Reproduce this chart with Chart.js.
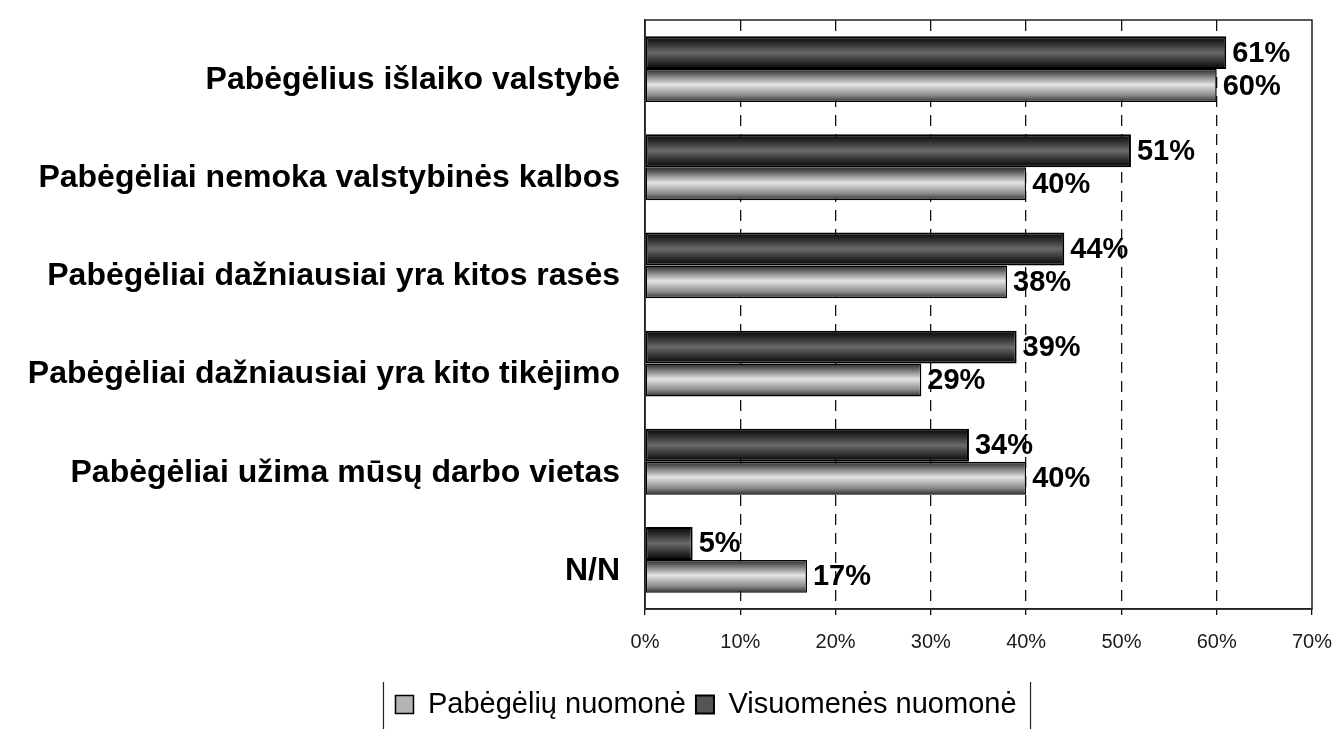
<!DOCTYPE html>
<html>
<head>
<meta charset="utf-8">
<script src="https://cdn.jsdelivr.net/npm/chart.js@4"></script>
<style>
  html, body { margin: 0; padding: 0; background: #fff; }
  .wrap { width: 1337px; height: 729px; }
</style>
</head>
<body>
<div class="wrap"><canvas id="myChart"></canvas></div>
<script>
// duomenys
var categories = [
  'Pabėgėlius išlaiko valstybė',
  'Pabėgėliai nemoka valstybinės kalbos',
  'Pabėgėliai dažniausiai yra kitos rasės',
  'Pabėgėliai dažniausiai yra kito tikėjimo',
  'Pabėgėliai užima mūsų darbo vietas',
  'N/N'
]
var visuomenes = [61, 51, 44, 39, 34, 5]
var pabegeliu = [60, 40, 38, 29, 40, 17]
var xTicks = [0, 10, 20, 30, 40, 50, 60, 70]

var FONT = 'Liberation Sans, Arial, sans-serif'

function barGradient(ctx, top, bottom, dark) {
  var g = ctx.createLinearGradient(0, top, 0, bottom)
  if (dark) {
    g.addColorStop(0, '#050505')
    g.addColorStop(0.22, '#2e2e2e')
    g.addColorStop(0.5, '#6a6a6a')
    g.addColorStop(0.78, '#2e2e2e')
    g.addColorStop(1, '#050505')
  } else {
    g.addColorStop(0, '#262626')
    g.addColorStop(0.18, '#6e6e6e')
    g.addColorStop(0.47, '#e4e4e4')
    g.addColorStop(0.8, '#8a8a8a')
    g.addColorStop(1, '#2e2e2e')
  }
  return g
}

// gradient on bars + percent labels + frame
var decor = {
  id: 'decor',
  afterLayout: function (chart) {
    // move legend a bit right, like in the original
    var lg = chart.legend
    if (!lg) return
    var dx = 50
    lg.left += dx
    lg.right += dx
    lg.legendHitBoxes.forEach(function (b) { b.left += dx })
  },
  beforeDatasetsDraw: function (chart) {
    var ctx = chart.ctx
    chart.data.datasets.forEach(function (ds, i) {
      var meta = chart.getDatasetMeta(i)
      meta.data.forEach(function (el) {
        var h = el.height
        var g = barGradient(ctx, el.y - h / 2, el.y + h / 2, i === 0)
        el.options = Object.assign({}, el.options, { backgroundColor: g })
      })
    })
  },
  afterDatasetsDraw: function (chart) {
    var ctx = chart.ctx
    ctx.save()
    ctx.fillStyle = '#000'
    ctx.font = 'bold 29px ' + FONT
    ctx.textAlign = 'left'
    ctx.textBaseline = 'middle'
    chart.data.datasets.forEach(function (ds, i) {
      var meta = chart.getDatasetMeta(i)
      meta.data.forEach(function (el, j) {
        ctx.fillText(ds.data[j] + '%', el.x + 6, el.y + 1)
      })
    })
    // frame round plot area
    var a = chart.chartArea
    ctx.strokeStyle = '#222'
    ctx.lineWidth = 1.5
    ctx.strokeRect(a.left, a.top, a.right - a.left, a.bottom - a.top)
    ctx.restore()
  },
  afterDraw: function (chart) {
    var lg = chart.legend
    if (!lg || !lg.legendHitBoxes.length) return
    var boxes = lg.legendHitBoxes
    var l = boxes[0].left - 12
    var last = boxes[boxes.length - 1]
    var r = last.left + last.width + 14
    var ctx = chart.ctx
    ctx.save()
    ctx.strokeStyle = '#222'
    ctx.lineWidth = 1.2
    ctx.beginPath()
    ctx.moveTo(l, lg.top + 2); ctx.lineTo(l, 729)
    ctx.moveTo(r, lg.top + 2); ctx.lineTo(r, 729)
    ctx.stroke()
    ctx.restore()
  }
}

var data = {
  labels: categories,
  datasets: [{
    label: 'Visuomenės nuomonė',
    data: visuomenes,
    backgroundColor: '#555',
    borderColor: '#000',
    borderWidth: 2,
    borderSkipped: false,
    categoryPercentage: 0.67,
    barPercentage: 1
  }, {
    label: 'Pabėgėlių nuomonė',
    data: pabegeliu,
    backgroundColor: '#b4b4b4',
    borderColor: '#000',
    borderWidth: 1.5,
    borderSkipped: false,
    categoryPercentage: 0.67,
    barPercentage: 1
  }]
}

var options = {
  indexAxis: 'y',
  responsive: true,
  maintainAspectRatio: false,
  animation: false,
  layout: { padding: { top: 20, right: 25, left: 0, bottom: 0 } },
  scales: {
    x: {
      min: 0,
      max: 70,
      afterBuildTicks: function (scale) {
        scale.ticks = xTicks.map(function (v) { return { value: v } })
      },
      afterFit: function (scale) {
        scale.height = 71
        scale.paddingLeft = 0
        scale.paddingRight = 0
      },
      ticks: {
        color: '#1a1a1a',
        font: { family: FONT, size: 20 },
        padding: 15,
        callback: function (v) { return v + '%' }
      },
      grid: {
        color: function (c) {
          return (c.tick && (c.tick.value === 0 || c.tick.value === 70)) ? 'rgba(0,0,0,0)' : '#111'
        },
        lineWidth: 1.3,
        tickLength: 6,
        tickColor: '#111'
      },
      border: { display: true, color: '#222', width: 1.5, dash: [11, 8] }
    },
    y: {
      afterFit: function (scale) {
        scale.width = 645
        scale.paddingTop = 0
        scale.paddingBottom = 0
      },
      ticks: {
        color: '#000',
        font: { family: FONT, size: 32, weight: 'bold' },
        padding: 17,
        labelOffset: 11
      },
      grid: { display: false },
      border: { display: true, color: '#222', width: 1.5 }
    }
  },
  plugins: {
    legend: {
      position: 'bottom',
      reverse: true,
      labels: {
        color: '#000',
        font: { family: FONT, size: 29 },
        boxWidth: 18,
        boxHeight: 18,
        padding: 10
      }
    },
    tooltip: { enabled: false }
  }
}

new Chart(document.getElementById('myChart'), {
  type: 'bar',
  data: data,
  options: options,
  plugins: [decor]
})
</script>
</body>
</html>
